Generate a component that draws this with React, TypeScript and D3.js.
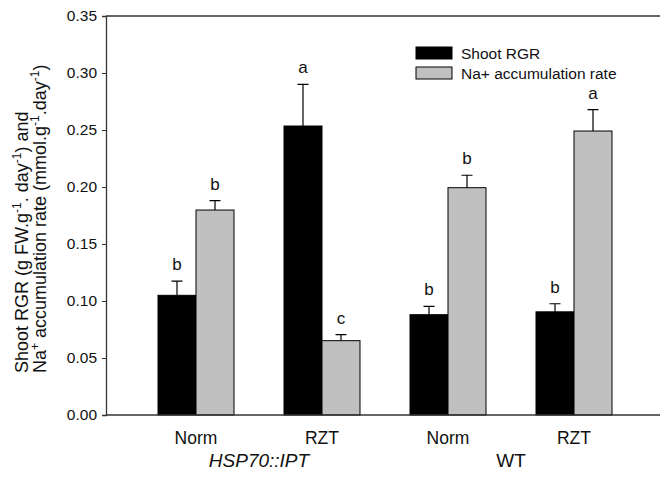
import React, { useEffect, useRef } from 'react';
import * as d3 from 'd3';

const categories = ['Norm', 'RZT', 'Norm', 'RZT'];
const groups = ['HSP70::IPT', 'WT'];
const seriesNames = ['Shoot RGR', 'Na+ accumulation rate'];
const rgrValues = [0.105, 0.2535, 0.088, 0.0905];
const rgrErrors = [0.0125, 0.0365, 0.0073, 0.0071];
const rgrLetters = ['b', 'a', 'b', 'b'];
const naValues = [0.1798, 0.0652, 0.1994, 0.2491];
const naErrors = [0.0082, 0.0053, 0.0109, 0.0187];
const naLetters = ['b', 'c', 'b', 'a'];
const yTicks = [0, 0.05, 0.1, 0.15, 0.2, 0.25, 0.3, 0.35];

const W = 660;
const H = 477;
const FONT = 'Liberation Sans, Arial, sans-serif';

const App = () => {
    const svgRef = useRef<SVGSVGElement>(null);

    useEffect(() => {
        const svg = d3.select(svgRef.current);
        svg.selectAll('*').remove();

        const left = 106, right = 662, top = 16, bottom = 415;

        const x = d3.scaleBand<number>()
            .domain(d3.range(categories.length))
            .range([133, 637])
            .padding(0);

        const xs = d3.scaleBand<number>()
            .domain([0, 1])
            .range([0, x.bandwidth()])
            .paddingInner(0)
            .paddingOuter(0.658);

        const y = d3.scaleLinear().domain([0, 0.35]).range([bottom, top]);

        // frame top line
        svg.append('line').attr('x1', left).attr('x2', right).attr('y1', top).attr('y2', top)
            .attr('stroke', '#333').attr('stroke-width', 1.3);

        const yAxis = svg.append('g')
            .attr('transform', `translate(${left},0)`)
            .call(d3.axisLeft(y).tickValues(yTicks).tickFormat(d3.format('.2f')).tickSize(4).tickPadding(5));
        yAxis.select('.domain').attr('stroke', '#333').attr('stroke-width', 1.3);
        yAxis.selectAll('line').attr('stroke', '#333');
        yAxis.selectAll('text').attr('font-family', FONT).attr('font-size', 15.5).attr('fill', '#111');

        const series = [
            { vals: rgrValues, errs: rgrErrors, letters: rgrLetters, fill: '#000' },
            { vals: naValues, errs: naErrors, letters: naLetters, fill: '#c0c0c0' },
        ];

        series.forEach((s, si) => {
            const g = svg.append('g');
            const bx = (i: number) => (x(i) as number) + (xs(si) as number);
            const bw = xs.bandwidth();
            g.selectAll('rect').data(s.vals).enter().append('rect')
                .attr('x', (d, i) => bx(i))
                .attr('y', d => y(d))
                .attr('width', bw)
                .attr('height', d => bottom - y(d))
                .attr('fill', s.fill)
                .attr('stroke', '#000')
                .attr('stroke-width', 1);
            // error bars, upward only
            g.selectAll('.err').data(s.vals).enter().append('path')
                .attr('class', 'err')
                .attr('d', (d, i) => {
                    const cx = bx(i) + bw / 2;
                    const t = y(d + s.errs[i]);
                    return `M${cx},${y(d)}V${t}M${cx - 5.5},${t}H${cx + 5.5}`;
                })
                .attr('stroke', '#000').attr('stroke-width', 1.2).attr('fill', 'none');
            g.selectAll('.lbl').data(s.vals).enter().append('text')
                .attr('x', (d, i) => bx(i) + bw / 2)
                .attr('y', (d, i) => y(d + s.errs[i]) - 11)
                .attr('text-anchor', 'middle')
                .attr('font-family', FONT).attr('font-size', 17).attr('fill', '#111')
                .text((d, i) => s.letters[i]);
        });

        svg.append('line').attr('x1', left).attr('x2', right).attr('y1', bottom).attr('y2', bottom)
            .attr('stroke', '#333').attr('stroke-width', 1.3);

        // category labels
        svg.selectAll('.cat').data(categories).enter().append('text')
            .attr('x', (d, i) => (x(i) as number) + x.bandwidth() / 2)
            .attr('y', 444)
            .attr('text-anchor', 'middle')
            .attr('font-family', FONT).attr('font-size', 17.5).attr('fill', '#111')
            .text(d => d);

        // group labels
        svg.selectAll('.grp').data(groups).enter().append('text')
            .attr('x', (d, i) => (x(i * 2) as number) + x.bandwidth())
            .attr('y', 467)
            .attr('text-anchor', 'middle')
            .attr('font-family', FONT).attr('font-size', 19).attr('fill', '#111')
            .attr('font-style', (d, i) => (i === 0 ? 'italic' : 'normal'))
            .text(d => d);

        // legend
        const leg = svg.append('g').attr('transform', 'translate(416,47)');
        seriesNames.forEach((name, i) => {
            leg.append('rect').attr('x', 0).attr('y', i * 20).attr('width', 36).attr('height', 12)
                .attr('fill', series[i].fill).attr('stroke', '#000').attr('stroke-width', 1);
            leg.append('text').attr('x', 45).attr('y', i * 20 + 11.5)
                .attr('font-family', FONT).attr('font-size', 15.5).attr('fill', '#111')
                .text(name);
        });

        // y axis title, two lines starting at the same point
        const start = 373;
        const t1 = svg.append('text')
            .attr('transform', `translate(28,${start}) rotate(-90)`)
            .attr('font-family', FONT).attr('font-size', 18).attr('fill', '#111');
        t1.append('tspan').text('Shoot RGR (g FW.g');
        t1.append('tspan').attr('dy', -7).attr('font-size', 12).text('-1');
        t1.append('tspan').attr('dy', 7).text('. day');
        t1.append('tspan').attr('dy', -7).attr('font-size', 12).text('-1');
        t1.append('tspan').attr('dy', 7).text(') and');

        const t2 = svg.append('text')
            .attr('transform', `translate(46,${start}) rotate(-90)`)
            .attr('font-family', FONT).attr('font-size', 18).attr('fill', '#111');
        t2.append('tspan').text('Na');
        t2.append('tspan').attr('dy', -7).attr('font-size', 12).text('+');
        t2.append('tspan').attr('dy', 7).text(' accumulation rate (mmol.g');
        t2.append('tspan').attr('dy', -7).attr('font-size', 12).text('-1');
        t2.append('tspan').attr('dy', 7).text('.day');
        t2.append('tspan').attr('dy', -7).attr('font-size', 12).text('-1');
        t2.append('tspan').attr('dy', 7).text(')');
    }, []);

    return (
        <svg ref={svgRef} width={W} height={H}
            style={{ position: 'absolute', left: 0, top: 0, background: '#fff' }} />
    );
};

export default App;
